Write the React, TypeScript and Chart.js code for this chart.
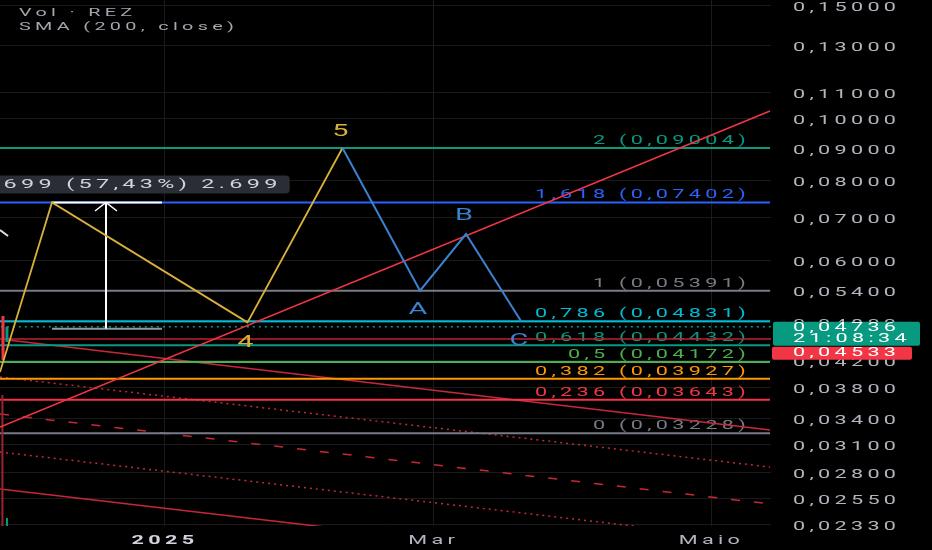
import React, { useEffect, useRef } from "react";
import { Chart, registerables } from "chart.js";

Chart.register(...registerables);

// ---- axes (x = days since 2025-01-01, y = price, log) ----
const X_MIN = -36.23;
const X_MAX = 133.07;
const Y_MIN = 0.02314;
const Y_MAX = 0.1532;

const PRICE_TICKS = [0.15, 0.13, 0.11, 0.1, 0.09, 0.08, 0.07, 0.06, 0.054, 0.048, 0.042, 0.038, 0.034, 0.031, 0.028, 0.0255, 0.0233];
const TIME_TICKS = [0, 59, 120];
const TIME_LABELS = ["2025", "Mar", "Maio"];

// ---- Fibonacci levels ----
const FIB_RATIOS = ["2", "1,618", "1", "0,786", "0,618", "0,5", "0,382", "0,236", "0"];
const FIB_PRICES = [0.09004, 0.07402, 0.05391, 0.04831, 0.04432, 0.04172, 0.03927, 0.03643, 0.03228];
const FIB_COLORS = ["#089981", "#2962ff", "#787b86", "#00bcd4", "#089981", "#4caf50", "#ff9800", "#f23645", "#787b86"];
const FIB_RANGE = [-40, 132.85];

// ---- Elliott waves ----
const IMPULSE_DAYS = [-36.23, -24.81, 18.12, 38.98];
const IMPULSE_PRICES = [0.04024, 0.07402, 0.0481, 0.09];
const IMPULSE_LABELS = ["", "", "4", "5"];
const CORR_DAYS = [38.98, 56.0, 66.1, 78.2];
const CORR_PRICES = [0.09, 0.0539, 0.06608, 0.0483];
const CORR_LABELS = ["", "A", "B", "C"];

// ---- trend lines ----
const RISE_DAYS = [-36.23, 132.85];
const RISE_PRICES = [0.03302, 0.1028];
const FALL_DAYS = [-34.47, 132.85];
const FALL_PRICES = [0.04515, 0.03267];
const CHANNEL_DAYS = [-36.23, 132.85];
const CHANNEL_DOT1 = [0.03953, 0.0286];
const CHANNEL_DASH = [0.0346, 0.02505];
const CHANNEL_DOT2 = [0.03019, 0.02185];
const CHANNEL_LOW = [0.02643, 0.01912];

// ---- price lines ----
const LAST_PRICE = 0.04736;
const LAST_TIME = "21:08:34";
const PREV_PRICE = 0.04533;
const LINE_RANGE = [-40, 140];

// ---- candles at left edge ----
const CANDLE_DAYS = [-35.57, -34.7];
const CANDLE_HIGH = [0.04921, 0.04736];
const CANDLE_LOW = [0.04201, 0.04482];
const CANDLE_COLORS = ["#f23645", "#089981"];
const VOL_DAYS = [-35.7, -34.7];
const VOL_TOP = [0.03705, 0.02381];
const VOL_COLORS = ["#9c2330", "#089981"];
const STUB_DAYS = [-36.23, -34.47];
const STUB_PRICES = [0.06703, 0.0656];

// ---- price range measure ----
const MEASURE_DAY = -12.96;
const MEASURE_SPAN = [-24.81, -0.66];
const MEASURE_FROM = 0.04703;
const MEASURE_TO = 0.07402;
const ARROW_DAYS = [-15.37, -12.96, -10.54];
const ARROW_PRICES = [0.07177, 0.07402, 0.07177];
const MEASURE_TEXT = "0,02699 (57,43%) 2.699";

const LEGEND_LINES = ["Vol · REZ", "SMA (200, close)"];

// ---- text style ----
const SX = 1.8;
const LS = "2.4px";
const FONT = "Roboto";

const fmt = (v: number) => v.toFixed(5).replace(".", ",");

function stretchText(ctx: any) {
  const proto = CanvasRenderingContext2D.prototype.fillText;
  ctx.fillText = function (text: string, x: number, y: number) {
    this.save();
    this.letterSpacing = LS;
    this.translate(x, y + (this.textBaseline === "middle" ? 1.5 : 0));
    this.scale(SX, 1);
    proto.call(this, text, 0, 0);
    this.restore();
  };
}

function txt(ctx: any, s: string, x: number, y: number, color: string, size: number, align = "left", baseline = "middle", weight = "normal") {
  ctx.save();
  ctx.font = `${weight} ${size}px ${FONT}`;
  ctx.fillStyle = color;
  ctx.textAlign = align;
  ctx.textBaseline = baseline;
  ctx.fillText(s, x, y);
  ctx.restore();
}

function textWidth(ctx: any, s: string, size: number) {
  ctx.save();
  ctx.font = `normal ${size}px ${FONT}`;
  ctx.letterSpacing = LS;
  const w = ctx.measureText(s).width * SX;
  ctx.restore();
  return w;
}

function roundRect(ctx: any, x: number, y: number, w: number, h: number, r: number, color: string) {
  ctx.save();
  ctx.fillStyle = color;
  ctx.beginPath();
  ctx.roundRect(x, y, w, h, r);
  ctx.fill();
  ctx.restore();
}

function seg(xs: number[], ys: number[], color: string, width: number, dash: number[] = []) {
  return {
    data: xs.map((x, i) => ({ x, y: ys[i] })),
    borderColor: color,
    borderWidth: width,
    borderDash: dash,
    pointRadius: 0,
    fill: false,
    tension: 0,
    borderCapStyle: "butt",
  };
}

const overlay = {
  id: "overlay",
  beforeInit(chart: any) {
    stretchText(chart.ctx);
  },
  beforeDatasetsDraw(chart: any) {
    const { ctx } = chart;
    const xs = chart.scales.x;
    const ys = chart.scales.y;
    const xr = xs.getPixelForValue(FIB_RANGE[1]) - 20;
    FIB_PRICES.forEach((p, i) => {
      txt(ctx, `${FIB_RATIOS[i]} (${fmt(p)})`, xr, ys.getPixelForValue(p) - 4, FIB_COLORS[i], 12, "right", "alphabetic");
    });
  },
  afterDatasetsDraw(chart: any) {
    const { ctx } = chart;
    const xs = chart.scales.x;
    const ys = chart.scales.y;
    // wave labels
    IMPULSE_LABELS.forEach((l, i) => {
      if (!l) return;
      const up = IMPULSE_PRICES[i] > IMPULSE_PRICES[i - 1];
      txt(ctx, l, xs.getPixelForValue(IMPULSE_DAYS[i]), ys.getPixelForValue(IMPULSE_PRICES[i]) + (up ? -18 : 19), "#d9b13a", 16, "center");
    });
    CORR_LABELS.forEach((l, i) => {
      if (!l) return;
      const up = CORR_PRICES[i] > CORR_PRICES[i - 1];
      txt(ctx, l, xs.getPixelForValue(CORR_DAYS[i]), ys.getPixelForValue(CORR_PRICES[i]) + (up ? -19 : 18), "#3b82d0", 16, "center");
    });
    // measure label
    const mx = xs.getPixelForValue(MEASURE_DAY) + 6;
    const my = ys.getPixelForValue(MEASURE_TO);
    const w = textWidth(ctx, MEASURE_TEXT, 13) + 16;
    roundRect(ctx, mx - w / 2, my - 27, w, 18, 4, "#2a2d33");
    txt(ctx, MEASURE_TEXT, mx, my - 19, "#d1d4dc", 13, "center");
    // legend
    LEGEND_LINES.forEach((l, i) => txt(ctx, l, 19, 12 + i * 14, "#a3a6af", 11));
  },
  afterDraw(chart: any) {
    const { ctx, chartArea } = chart;
    const ys = chart.scales.y;
    const left = chartArea.right;
    const gTop = ys.getPixelForValue(LAST_PRICE) - 5;
    roundRect(ctx, left + 2, gTop, 147, 24, 2, "#089981");
    txt(ctx, fmt(LAST_PRICE), left + 22, gTop + 5, "#ffffff", 12);
    txt(ctx, LAST_TIME, left + 22, gTop + 16, "#ffffff", 12);
    const rTop = gTop + 25;
    roundRect(ctx, left + 1, rTop, 140, 13, 2, "#f23645");
    txt(ctx, fmt(PREV_PRICE), left + 22, rTop + 5, "#ffffff", 12);
  },
};

export default function App() {
  const ref = useRef<HTMLCanvasElement | null>(null);
  useEffect(() => {
    const layers: any[] = [];
    // bottom layers first
    layers.push(seg(CHANNEL_DAYS, CHANNEL_LOW, "#c62838", 1.5));
    layers.push(seg(CHANNEL_DAYS, CHANNEL_DOT2, "#c62838", 1.5, [2, 4]));
    layers.push(seg(CHANNEL_DAYS, CHANNEL_DASH, "#c62838", 1.5, [9, 14]));
    layers.push(seg(CHANNEL_DAYS, CHANNEL_DOT1, "#c62838", 1.5, [2, 4]));
    layers.push(seg(FALL_DAYS, FALL_PRICES, "#c8283f", 1.5));
    FIB_PRICES.forEach((p, i) => layers.push(seg(FIB_RANGE, [p, p], FIB_COLORS[i], 2)));
    layers.push(seg(LINE_RANGE, [LAST_PRICE, LAST_PRICE], "#089981", 1.5, [2, 4]));
    layers.push(seg(LINE_RANGE, [PREV_PRICE, PREV_PRICE], "#c21f2e", 1.5));
    VOL_DAYS.forEach((d, i) => layers.push(seg([d, d], [VOL_TOP[i], Y_MIN * 0.9], VOL_COLORS[i], 2)));
    CANDLE_DAYS.forEach((d, i) => layers.push(seg([d, d], [CANDLE_HIGH[i], CANDLE_LOW[i]], CANDLE_COLORS[i], 3)));
    layers.push(seg(STUB_DAYS, STUB_PRICES, "#e0e0e0", 2));
    layers.push(seg(MEASURE_SPAN, [MEASURE_FROM, MEASURE_FROM], "#9598a1", 2));
    layers.push(seg(MEASURE_SPAN, [MEASURE_TO, MEASURE_TO], "#ffffff", 2));
    layers.push(seg([MEASURE_DAY, MEASURE_DAY], [MEASURE_FROM, MEASURE_TO], "#ffffff", 2));
    layers.push(seg(ARROW_DAYS, ARROW_PRICES, "#ffffff", 1.5));
    layers.push(seg(RISE_DAYS, RISE_PRICES, "#f23645", 1.5));
    layers.push(seg(IMPULSE_DAYS, IMPULSE_PRICES, "#d9b13a", 1.8));
    layers.push(seg(CORR_DAYS, CORR_PRICES, "#3b82d0", 2));
    const N = layers.length;
    layers.forEach((l, i) => (l.order = N - i));

    const chart = new Chart(ref.current as HTMLCanvasElement, {
      type: "line",
      data: { datasets: layers },
      plugins: [overlay],
      options: {
        animation: false,
        responsive: false,
        devicePixelRatio: 1,
        events: [],
        layout: { padding: 0 },
        plugins: { legend: { display: false }, tooltip: { enabled: false } },
        scales: {
          x: {
            type: "linear",
            position: "bottom",
            min: X_MIN,
            max: X_MAX,
            afterBuildTicks: (s: any) => {
              s.ticks = TIME_TICKS.map((v) => ({ value: v }));
            },
            afterFit: (s: any) => {
              s.height = 24;
              s.paddingLeft = 0;
              s.paddingRight = 0;
            },
            grid: { color: "#1c1c1c", drawTicks: false, lineWidth: 1 },
            border: { display: false },
            ticks: {
              autoSkip: false,
              maxRotation: 0,
              minRotation: 0,
              padding: 6,
              callback: (_v: any, i: number) => TIME_LABELS[i],
              color: (c: any) => (c.index === 0 ? "#d1d4dc" : "#b2b5be"),
              font: (c: any) => ({ family: FONT, size: 12, weight: c.index === 0 ? "bold" : "normal" }),
            },
          },
          y: {
            type: "logarithmic",
            position: "right",
            min: Y_MIN,
            max: Y_MAX,
            bounds: "data",
            afterBuildTicks: (s: any) => {
              s.ticks = PRICE_TICKS.map((v) => ({ value: v }));
            },
            afterFit: (s: any) => {
              s.width = 161;
              s.paddingTop = 0;
              s.paddingBottom = 0;
            },
            grid: { color: "#1a1a1a", drawTicks: false, lineWidth: 1 },
            border: { display: false },
            ticks: {
              autoSkip: false,
              crossAlign: "near",
              padding: 22,
              labelOffset: 1,
              color: "#b2b5be",
              font: { family: FONT, size: 12 },
              callback: (v: any) => fmt(Number(v)),
            },
          },
        },
      } as any,
    });
    return () => chart.destroy();
  }, []);

  return (
    <div style={{ position: "fixed", left: 0, top: 0, width: 932, height: 550, background: "#000" }}>
      <canvas ref={ref} width={932} height={550} style={{ width: 932, height: 550, display: "block" }} />
    </div>
  );
}
